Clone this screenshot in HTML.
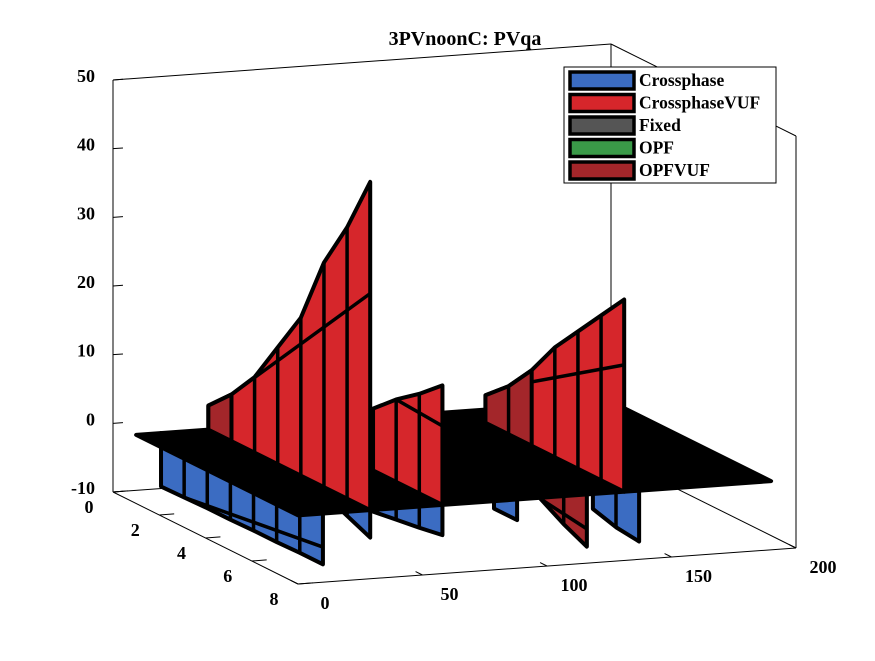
<!DOCTYPE html>
<html><head><meta charset="utf-8"><style>
body{margin:0;background:#fff;}
svg text{font-family:"Liberation Serif",serif;font-weight:bold;}
</style></head><body>
<svg id="chart" width="875" height="656" viewBox="0 0 875 656" xmlns="http://www.w3.org/2000/svg">
<rect width="875" height="656" fill="#fff"/>
<text x="465" y="45" font-size="20" text-anchor="middle">3PVnoonC: PVqa</text>
<g id="box"></g><g id="marks"></g><g id="ticks"></g>
<g>
<rect x="564" y="67" width="212" height="116" fill="#fff" stroke="#000" stroke-width="1"/>
<g id="legendItems"></g>
</g>
</svg>
<script>
const xTicks=[0,50,100,150,200];
const yTicks=[0,2,4,6,8];
const zTicks=[-10,0,10,20,30,40,50];
const seriesNames=["Crossphase","CrossphaseVUF","Fixed","OPF","OPFVUF"];
const seriesColors=["#3b6cc2","#d6262b","#555555","#3a9a48","#a3262a"];
// Crossphase (negative walls)
const crossLeftX=10, crossLeftY0=1, crossLeft=[-7.8,-7.7,-7.6,-7.6,-7.5,-7.5,-7.4,-7.4];
const crossSailX=29, crossSailY0=6, crossSail=[-1,-2.5,-4];
const crossMidX=58, crossMidY0=5, crossMid=[-6,-5.5,-5,-4.4];
const crossSmallX=88, crossSmallY0=7, crossSmall=[-3,-3];
const crossRightX=137, crossRightY0=6, crossRight=[-6,-7,-7.4];
// CrossphaseVUF (positive walls)
const vufSailX=29, vufSailY0=1, vufSail=[3.5,6.8,11,17,23,32.7,39.5,47.8];
const vufMidX=58, vufMidY0=5, vufMid=[9,12,14.5,17.4];
const vufRightX=131, vufRightY0=2, vufRight=[4,7,11,16,20,24,28];
// OPFVUF
const opfSailX=29, opfSailY0=1, opfSail=[3.5,6.8];
const opfRightX=131, opfRightY0=2, opfRight=[4,7,11];
const opfHangX=116, opfHangY0=5, opfHang=[-2,-4,-6,-7.6];
// Fixed plane
const fixedZ=0, fixedX=[0,190], fixedY=[1,8];

const NS="http://www.w3.org/2000/svg";
function P(x,y,z){return [113+x/200*498+y/8*185, 492-x/200*36+y/8*92-(z+10)/60*412];}
function el(tag,attrs,parent){const e=document.createElementNS(NS,tag);for(const k in attrs)e.setAttribute(k,attrs[k]);parent.appendChild(e);return e;}
const box=document.getElementById('box'),marks=document.getElementById('marks'),ticks=document.getElementById('ticks');
function line3(a,b,parent,name){const p=P(...a),q=P(...b);const l=el('line',{x1:p[0],y1:p[1],x2:q[0],y2:q[1],stroke:'#000','stroke-width':1},parent);

return l;}
line3([0,0,-10],[0,0,50],box,'z-axis-line');
line3([0,0,50],[200,0,50],box,'box-edge');
line3([200,0,-10],[200,0,50],box,'box-edge');
line3([200,8,-10],[200,8,50],box,'box-edge');
line3([200,0,50],[200,8,50],box,'box-edge');
line3([0,0,-10],[200,0,-10],box,'box-edge');
line3([200,0,-10],[200,8,-10],box,'box-edge');
line3([0,0,-10],[0,8,-10],box,'y-axis-line');
line3([0,8,-10],[200,8,-10],box,'x-axis-line');
xTicks.forEach(v=>{const a=P(v,8,-10),b=P(v,7.7,-10);const t=el('line',{x1:a[0],y1:a[1],x2:b[0],y2:b[1],stroke:'#000'},ticks);


const tx=el('text',{x:a[0]+27,y:a[1]+25,'font-size':18,'text-anchor':'middle'},ticks);tx.textContent=v;

});
yTicks.forEach(v=>{const a=P(0,v,-10),b=P(6,v,-10);const t=el('line',{x1:a[0],y1:a[1],x2:b[0],y2:b[1],stroke:'#000'},ticks);


const tx=el('text',{x:a[0]-24,y:a[1]+21,'font-size':18,'text-anchor':'middle'},ticks);tx.textContent=v;

});
zTicks.forEach(v=>{const a=P(0,0,v),b=P(4,0,v);const t=el('line',{x1:a[0],y1:a[1],x2:b[0],y2:b[1],stroke:'#000'},ticks);


const tx=el('text',{x:a[0]-18,y:a[1]+2,'font-size':18,'text-anchor':'end'},ticks);tx.textContent=v;

});

function wall(x,y0,vals,color,name,midline){
  const g=el('g',{},marks);
  
  
  const pts=[];
  vals.forEach((v,i)=>pts.push(P(x,y0+i,v)));
  for(let i=vals.length-1;i>=0;i--)pts.push(P(x,y0+i,0));
  el('polygon',{points:pts.map(p=>p.join(',')).join(' '),fill:color,stroke:'#000','stroke-width':4,'stroke-linejoin':'round'},g);
  vals.forEach((v,i)=>{const a=P(x,y0+i,0),b=P(x,y0+i,v);el('line',{x1:a[0],y1:a[1],x2:b[0],y2:b[1],stroke:'#000','stroke-width':3.5},g);});
  if(midline&&vals.length>2){const n=vals.length-1;const a=P(x,y0+1,vals[1]),b=P(x,y0+n,vals[n]*0.66);
    el('line',{x1:a[0],y1:a[1],x2:b[0],y2:b[1],stroke:'#000','stroke-width':3.5},g);}
}
const B=seriesColors[0],R=seriesColors[1],D=seriesColors[4];
wall(crossRightX,crossRightY0,crossRight,B,'crossphase-wall-right');
wall(opfHangX,opfHangY0,opfHang,D,'opfvuf-wall-hanging',true);
wall(crossSmallX,crossSmallY0,crossSmall,B,'crossphase-wall-small');
wall(crossMidX,crossMidY0,crossMid,B,'crossphase-wall-mid');
wall(crossSailX,crossSailY0,crossSail,B,'crossphase-wall-sail');
wall(crossLeftX,crossLeftY0,crossLeft,B,'crossphase-wall-left',true);
{const c=[P(fixedX[0],fixedY[0],fixedZ),P(fixedX[1],fixedY[0],fixedZ),P(fixedX[1],fixedY[1],fixedZ),P(fixedX[0],fixedY[1],fixedZ)];
const pl=el('polygon',{points:c.map(p=>p.join(',')).join(' '),fill:'#000',stroke:'#000','stroke-width':4,'stroke-linejoin':'round'},marks);

}
wall(vufRightX,vufRightY0,vufRight,R,'crossphasevuf-wall-right',true);
wall(opfRightX,opfRightY0,opfRight,D,'opfvuf-wall-right');
wall(vufMidX,vufMidY0,vufMid,R,'crossphasevuf-wall-mid',true);
wall(vufSailX,vufSailY0,vufSail,R,'crossphasevuf-wall-sail',true);
wall(opfSailX,opfSailY0,opfSail,D,'opfvuf-wall-sail');

const li=document.getElementById('legendItems');
seriesNames.forEach((n,i)=>{const y=80+i*22.5;
  const g=el('g',{},li);
  
  
  el('rect',{x:570,y:y-8,width:64,height:17,fill:seriesColors[i],stroke:'#000','stroke-width':3.5},g);
  const t=el('text',{x:639,y:y+6,'font-size':17.5},g);t.textContent=n;});
</script>
</body></html>
